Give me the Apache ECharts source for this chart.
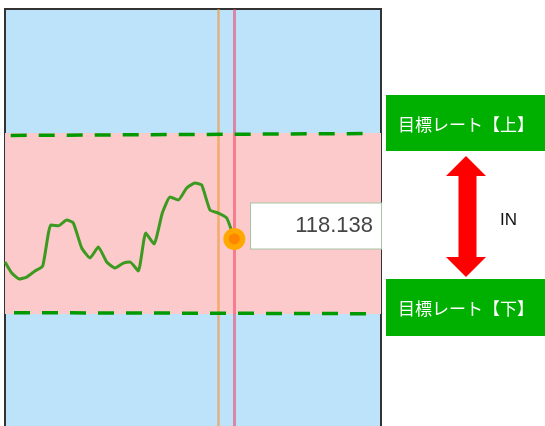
<!DOCTYPE html>
<html>
<head>
<meta charset="utf-8">
<script src="https://cdn.jsdelivr.net/npm/echarts@6/dist/echarts.min.js"></script>
<style>
html,body{margin:0;padding:0;background:#fff;}
#c{width:545px;height:426px;}
</style>
</head>
<body>
<div id="c"></div>
<script>
// ---- data ----
var xs = [0, 1.68, 3.58, 5.43, 7.5, 9.43, 11.43, 13.33, 15.43, 17.08, 19.18, 21.25, 23.33, 25.43, 27.5, 29.58, 31.25, 33.33, 35.18, 37.25, 39.33, 41.25, 43.33, 45.43, 47.5, 49.18, 51.25, 53.33, 55.43, 57.33];
var prices = [118.001, 117.936, 117.900, 117.912, 117.948, 117.978, 118.220, 118.216, 118.250, 118.232, 118.084, 118.025, 118.090, 118.001, 117.966, 117.995, 118.001, 117.948, 118.173, 118.108, 118.291, 118.386, 118.368, 118.440, 118.469, 118.457, 118.309, 118.291, 118.262, 118.138];
var bandTop = 118.765;
var bandBottom = 117.693;
var upperTarget = [[1.43, 118.751], [89.4, 118.762]];
var lowerTarget = [[2.25, 117.701], [90.4, 117.695]];
var orangeLineX = 53.25;
var currentX = 57.33;
var labelUpper = '目標レート【上】';
var labelLower = '目標レート【下】';
var labelIn = 'IN';

var lineData = xs.map(function (x, i) { return [x, prices[i]]; });
var last = lineData[lineData.length - 1];

var chart = echarts.init(document.getElementById('c'), null, {renderer: 'canvas'});
chart.setOption({
  animation: false,
  grid: {
    left: 5, top: 9, width: 376, height: 422,
    outerBoundsMode: 'none',
    containLabel: false,
    show: true, backgroundColor: '#bde3fb', borderColor: '#333', borderWidth: 2
  },
  xAxis: {type: 'value', min: 0, max: 94, show: false},
  yAxis: {type: 'value', min: 117, max: 119.5, show: false},
  series: [
    {
      type: 'line',
      data: lineData,
      symbol: 'none',
      smooth: 0.15,
      z: 5,
      lineStyle: {color: '#3b9a1f', width: 3, join: 'round'},
      markArea: {
        silent: true,
        itemStyle: {color: '#fccaca'},
        data: [[{yAxis: bandTop}, {yAxis: bandBottom}]]
      },
      markLine: {
        silent: true,
        symbol: 'none',
        label: {show: false},
        data: [
          {xAxis: orangeLineX, lineStyle: {color: 'rgba(240,150,60,0.65)', width: 2.5, type: 'solid'}},
          {xAxis: currentX, lineStyle: {color: 'rgba(240,60,95,0.55)', width: 3, type: 'solid'}},
          [{coord: upperTarget[0]}, {coord: upperTarget[1]}],
          [{coord: lowerTarget[0]}, {coord: lowerTarget[1]}]
        ],
        lineStyle: {color: '#009a00', width: 3.5, type: [16, 12]}
      }
    },
    {
      type: 'scatter',
      data: [last],
      symbolSize: 22,
      z: 10,
      itemStyle: {color: '#ffa800', opacity: 1},
      label: {
        show: true,
        position: [157.7, -24.5],
        align: 'right',
        verticalAlign: 'top',
        formatter: function (p) { return p.value[1].toFixed(3); },
        width: 122,
        height: 45,
        lineHeight: 45,
        padding: [0, 8, 0, 0],
        backgroundColor: '#ffffff',
        borderColor: '#a6c4a6',
        borderWidth: 1,
        color: '#454545',
        fontSize: 22,
        fontFamily: 'Liberation Sans, Arial, sans-serif'
      }
    },
    {
      type: 'scatter',
      data: [last],
      symbolSize: 11,
      z: 11,
      itemStyle: {color: '#ff8400', opacity: 1}
    }
  ],
  graphic: [
    {type: 'rect', shape: {x: 386, y: 95, width: 159, height: 56}, style: {fill: '#00b000'}},
    {type: 'text', x: 466, y: 125, style: {text: labelUpper, fill: '#fff', font: '17px "Noto Sans CJK JP"', textAlign: 'center', textVerticalAlign: 'middle'}},
    {type: 'rect', shape: {x: 386, y: 279, width: 159, height: 57}, style: {fill: '#00b000'}},
    {type: 'text', x: 466, y: 309, style: {text: labelLower, fill: '#fff', font: '17px "Noto Sans CJK JP"', textAlign: 'center', textVerticalAlign: 'middle'}},
    {type: 'polygon', shape: {points: [[466, 156], [486, 176], [476.5, 176], [476.5, 257], [486, 257], [466, 277], [446, 257], [458.5, 257], [458.5, 176], [446, 176]]}, style: {fill: '#ff0000'}},
    {type: 'text', x: 500, y: 220, style: {text: labelIn, fill: '#111', font: '17px "Liberation Sans", Arial, sans-serif', textAlign: 'left', textVerticalAlign: 'middle'}}
  ]
});
</script>
</body>
</html>
